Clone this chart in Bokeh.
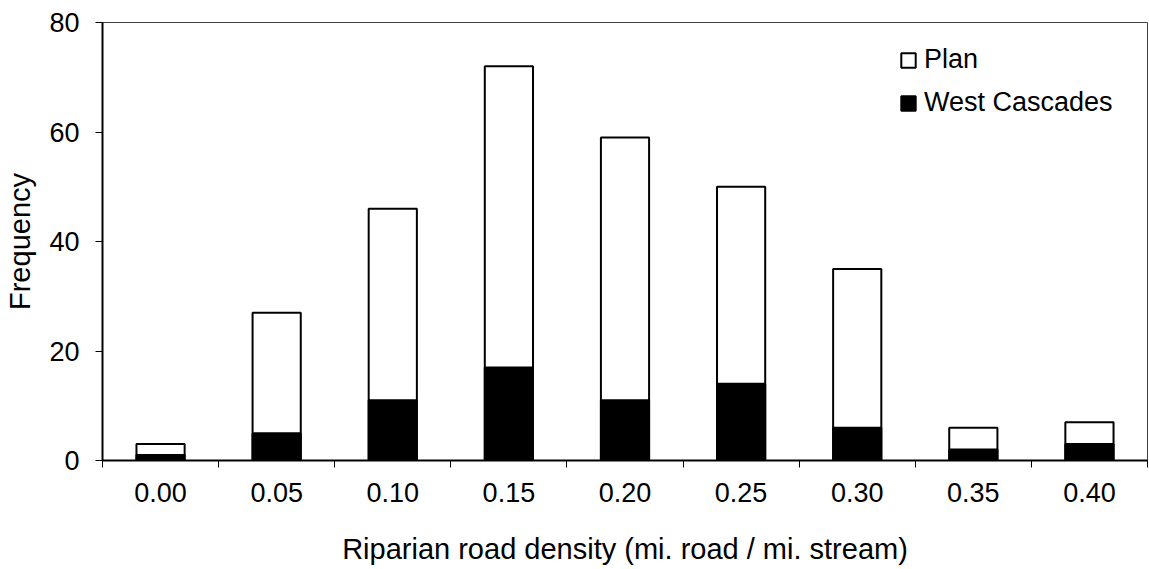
from bokeh.plotting import figure
from bokeh.models import Range1d, FixedTicker, Legend, LegendItem
from bokeh.embed import file_html
from bokeh.resources import INLINE

# ---- data ----
bins = ["0.00", "0.05", "0.10", "0.15", "0.20", "0.25", "0.30", "0.35", "0.40"]
plan_freq = [3, 27, 46, 72, 59, 50, 35, 6, 7]
west_cascades_freq = [1, 5, 11, 17, 11, 14, 6, 2, 3]
y_ticks = [0, 20, 40, 60, 80]

FONT = "Liberation Sans"
FS = "27px"
TITLE_FS = "29px"

xs = [i + 0.5 for i in range(len(bins))]

p = figure(width=1149, height=569, output_backend="svg", toolbar_location=None,
           x_range=Range1d(0, len(bins)), y_range=Range1d(0, 80),
           min_border_left=102, min_border_right=2, min_border_top=22, min_border_bottom=109)

p.xgrid.grid_line_color = None
p.ygrid.grid_line_color = None
p.outline_line_color = "#404040"
p.outline_line_width = 1
p.background_fill_color = "white"
p.border_fill_color = "white"

r_plan = p.vbar(x=xs, top=plan_freq, width=0.415, bottom=0,
                fill_color="white", line_color="black", line_width=2)
r_wc = p.vbar(x=xs, top=west_cascades_freq, width=0.415, bottom=0,
              fill_color="black", line_color="black", line_width=2)

# x axis: labels at centers, ticks at bin boundaries
xa = p.xaxis[0]
xa.ticker = FixedTicker(ticks=xs, minor_ticks=list(range(len(bins) + 1)))
xa.major_label_overrides = {x: b for x, b in zip(xs, bins)}
xa.major_tick_line_color = None
xa.major_tick_out = 0
xa.major_tick_in = 0
xa.minor_tick_line_color = "black"
xa.minor_tick_line_width = 1
xa.minor_tick_out = 7
xa.minor_tick_in = 0
xa.axis_line_color = "black"
xa.axis_line_width = 2
xa.major_label_standoff = 15
xa.major_label_text_font = FONT
xa.major_label_text_font_size = FS
xa.major_label_text_color = "black"
xa.axis_label = "Riparian road density (mi. road / mi. stream)"
xa.axis_label_text_font = FONT
xa.axis_label_text_font_size = TITLE_FS
xa.axis_label_text_font_style = "normal"
xa.axis_label_text_color = "black"
xa.axis_label_standoff = 28

ya = p.yaxis[0]
ya.ticker = FixedTicker(ticks=y_ticks)
ya.minor_tick_line_color = None
ya.major_tick_line_color = "black"
ya.major_tick_out = 7
ya.major_tick_in = 0
ya.axis_line_color = "black"
ya.axis_line_width = 2
ya.major_label_standoff = 16
ya.major_label_text_font = FONT
ya.major_label_text_font_size = FS
ya.major_label_text_color = "black"
ya.axis_label = "Frequency"
ya.axis_label_text_font = FONT
ya.axis_label_text_font_size = TITLE_FS
ya.axis_label_text_font_style = "normal"
ya.axis_label_text_color = "black"
ya.axis_label_standoff = 10

legend = Legend(items=[LegendItem(label="Plan", renderers=[r_plan]),
                       LegendItem(label="West Cascades", renderers=[r_wc])],
                location=(797, 336), padding=0, margin=0, spacing=0,
                glyph_width=18, glyph_height=18, label_height=43, label_standoff=7,
                border_line_color=None, background_fill_alpha=0,
                label_text_font=FONT, label_text_font_size=FS, label_text_color="black")
p.add_layout(legend)

open("out.html", "w").write(file_html(p, INLINE))
